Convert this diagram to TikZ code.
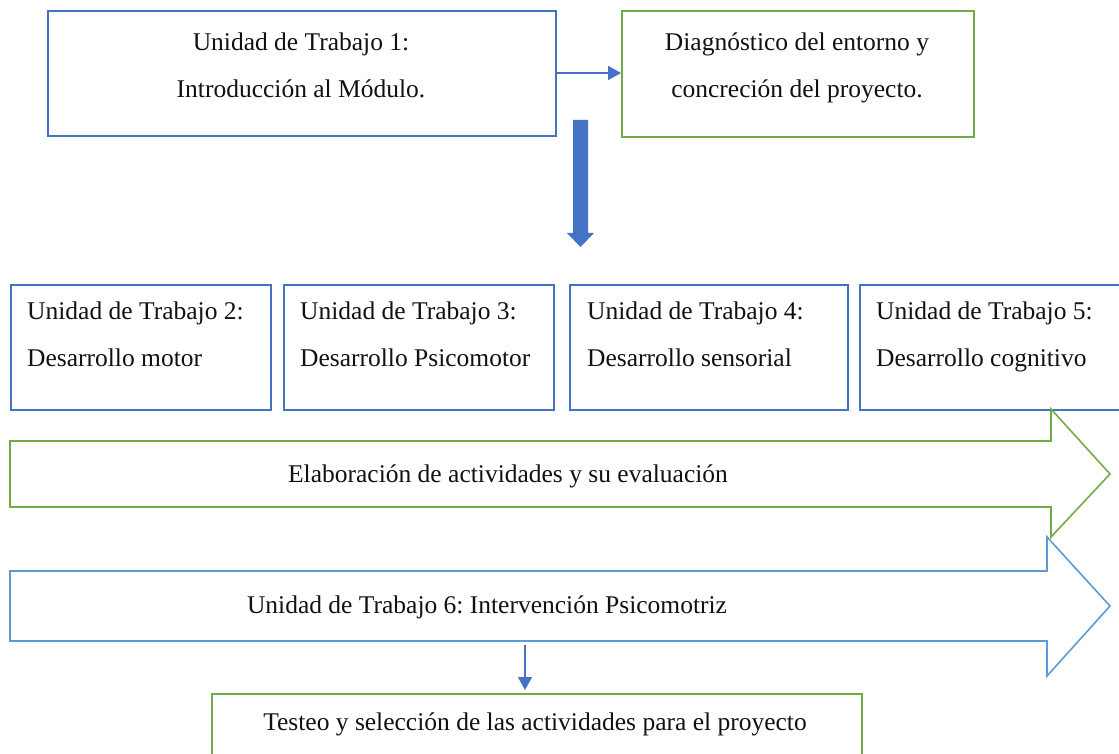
\documentclass[tikz,border=0pt]{standalone}
\usepackage{fontspec}
\setmainfont{Liberation Serif}
\usetikzlibrary{arrows.meta,calc}
\definecolor{bblue}{HTML}{4472C4}
\definecolor{bgreen}{HTML}{70AD47}
\definecolor{lblue}{HTML}{5B9BD5}
\definecolor{tcol}{HTML}{111111}
\begin{document}
\begin{tikzpicture}[x=1pt,y=-1pt,
  box/.style={draw=bblue,line width=1.6pt,anchor=north west,inner sep=0pt,minimum height=125pt},
  gbox/.style={draw=bgreen,line width=1.6pt,anchor=north west,inner sep=0pt},
  txt/.style={font=\fontsize{25.5}{47}\selectfont\frenchspacing,inner sep=0pt,text=tcol},
  conn/.style={draw=bblue,line width=1.5pt,-{Triangle[length=13pt,width=14pt]}}]
\useasboundingbox (0,0) rectangle (1119,754);
\clip (0,0) rectangle (1119,754);
% top row
\node[box,minimum width=508pt] (u1) at (47,10) {};
\node[gbox,minimum width=352pt,minimum height=126pt] (diag) at (621,10) {};
\node[txt,align=center] (t1) at (301,64.5) {\strut Unidad de Trabajo 1:\\\strut Introducción al Módulo.};
\node[txt,align=center] (td) at (797,64.5) {\strut Diagnóstico del entorno y\\\strut concreción del proyecto.};
\draw[conn] (u1.east |- 0,73) -- (diag.west |- 0,73);
% thick arrow
\fill[bblue] (573,120) -- (588,120) -- (588,233) -- (594,233) -- (580.5,247) -- (567,233) -- (573,233) -- cycle;
% second row
\node[box,minimum width=260pt] (u2) at (10,284) {};
\node[box,minimum width=270pt] (u3) at (283,284) {};
\node[box,minimum width=278pt] (u4) at (569,284) {};
\node[box,minimum width=280pt] (u5) at (859,284) {};
\node[txt,align=left,anchor=west] (t2) at (27,334) {\strut Unidad de Trabajo 2:\\\strut Desarrollo motor};
\node[txt,align=left,anchor=west] (t3) at (300,334) {\strut Unidad de Trabajo 3:\\\strut Desarrollo Psicomotor};
\node[txt,align=left,anchor=west] (t4) at (587,334) {\strut Unidad de Trabajo 4:\\\strut Desarrollo sensorial};
\node[txt,align=left,anchor=west] (t5) at (876,334) {\strut Unidad de Trabajo 5:\\\strut Desarrollo cognitivo};
% green big arrow
\draw[bgreen,line width=1.6pt,line join=miter] (10,441) -- (1051,441) -- (1051,409) -- (1110,474) -- (1051,537) -- (1051,507) -- (10,507) -- cycle;
\node[txt] (ela) at (508,473.5) {\strut Elaboración de actividades y su evaluación};
% blue big arrow
\draw[lblue,line width=1.6pt,line join=miter] (10,571) -- (1047,571) -- (1047,537) -- (1110,606) -- (1047,676) -- (1047,641) -- (10,641) -- cycle;
\node[txt] (u6) at (487,604) {\strut Unidad de Trabajo 6: Intervención Psicomotriz};
\coordinate (a6s) at (525,645);
% bottom box
\node[gbox,minimum width=650pt,minimum height=100pt] (test) at (211,693) {};
\node[txt] (tt) at (535,721.5) {\strut Testeo y selección de las actividades para el proyecto};
\draw[conn] (a6s) -- ($(test.north -| a6s)+(0,-3)$);
\end{tikzpicture}
\end{document}
